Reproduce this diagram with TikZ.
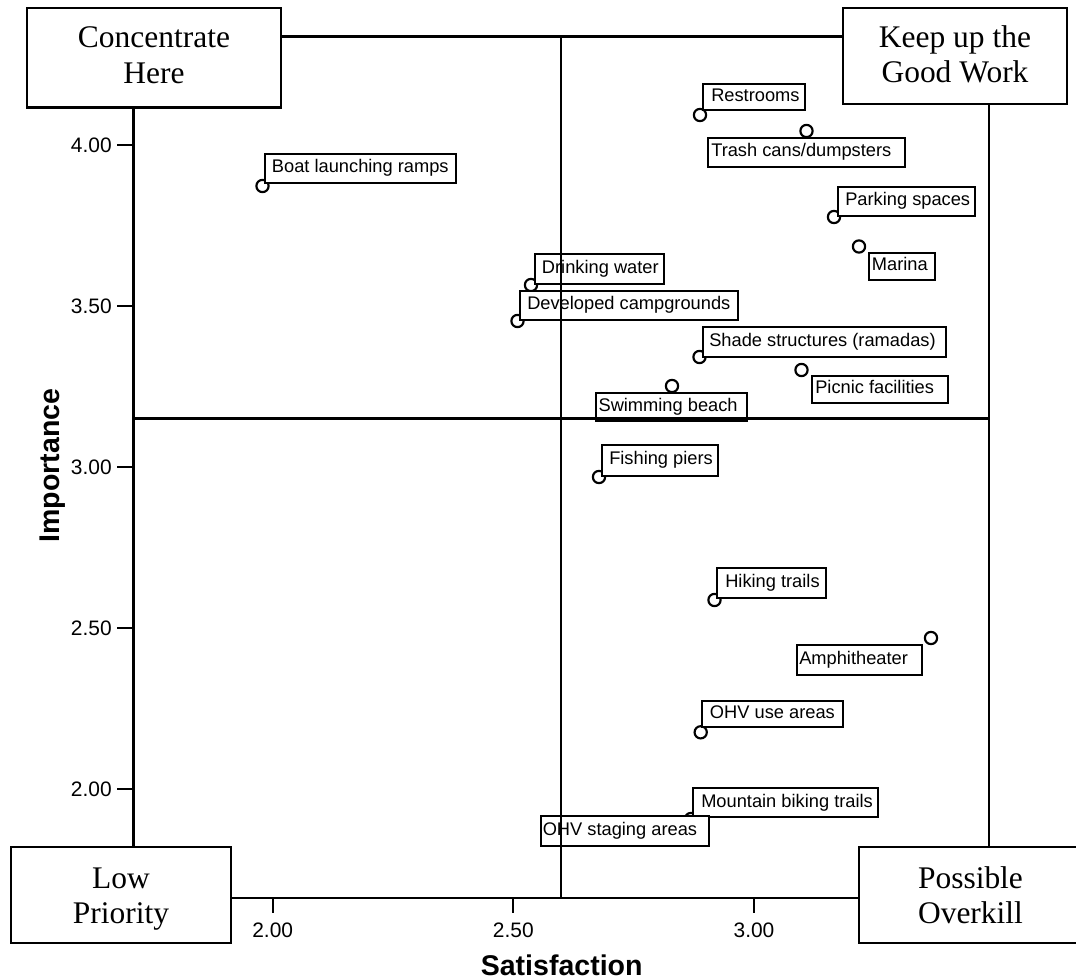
\documentclass[tikz,border=0pt]{standalone}
\usepackage{fontspec}
\setmainfont{Liberation Sans}
\newfontfamily\quadfont{Liberation Serif}
\newcommand\pxlab[7]{%
  \draw[lbbox] (#2,#3) rectangle (#4,#5);
  \node[lbtext] (#1) at ({#2+#6},{(#3+#5)/2+4.5}) {#7};}
\begin{document}
\begin{tikzpicture}[x=0.75pt,y=-0.75pt,
  frameline/.style={line width=2.2pt},
  tickline/.style={line width=1.6pt},
  qbox/.style={draw, line width=1.9pt, fill=white},
  qtext/.style={font=\quadfont\fontsize{23.6}{27}\selectfont, anchor=base, inner sep=0pt},
  lbbox/.style={draw, line width=1.6pt, fill=white},
  lbtext/.style={anchor=base west, inner sep=0pt, font=\fontsize{13.7}{15}\selectfont},
  ticklab/.style={inner sep=0pt, font=\fontsize{15.7}{18}\selectfont},
  axtitle/.style={inner sep=0pt, font=\bfseries\fontsize{21.4}{24}\selectfont},
  datapt/.style={draw, line width=1.6pt, circle, inner sep=0pt, minimum size=9.2pt}
]
\useasboundingbox (0,0) rectangle (1076,980);
\clip (0,0) rectangle (1076,980);

% data points
\node[datapt] (pboat) at (262.5,186) {};
\node[datapt] (prest) at (700,115) {};
\node[datapt] (ptrash) at (806.5,131) {};
\node[datapt] (ppark) at (834,217) {};
\node[datapt] (pmarina) at (859,246.5) {};
\node[datapt] (pdrink) at (531,285) {};
\node[datapt] (pdevel) at (517.5,321) {};
\node[datapt] (pshade) at (699.5,357) {};
\node[datapt] (ppicnic) at (801.5,370) {};
\node[datapt] (pswim) at (672,386) {};
\node[datapt] (pfish) at (599,477) {};
\node[datapt] (phike) at (714.5,600) {};
\node[datapt] (pamph) at (931,638) {};
\node[datapt] (pohvuse) at (700.7,732.3) {};
\node[datapt] (pmtb) at (691,819) {};

% labels
\pxlab{lboat}{265}{154}{456}{183}{6.7}{Boat launching ramps}
\pxlab{lrest}{703}{84}{805}{110}{8}{Restrooms}
\pxlab{ltrash}{708}{138}{905}{167}{3}{Trash cans/dumpsters}
\pxlab{lpark}{838}{187}{975}{216}{7}{Parking spaces}
\pxlab{lmarina}{869}{253}{935}{280}{2.7}{Marina}
\pxlab{ldrink}{535}{254}{664}{284}{6.7}{Drinking water}
\pxlab{ldevel}{520}{291}{738}{320}{7}{Developed campgrounds}
\pxlab{lshade}{703}{327}{946}{357}{6}{Shade structures (ramadas)}
\pxlab{lpicnic}{812}{376}{948}{403}{3}{Picnic facilities}
\pxlab{lswim}{596}{393}{747}{421}{2.3}{Swimming beach}
\pxlab{lfish}{602}{445}{718}{476}{7}{Fishing piers}
\pxlab{lhike}{717}{568}{826}{598}{8}{Hiking trails}
\pxlab{lamph}{797}{645}{922}{675}{2}{Amphitheater}
\pxlab{lohvuse}{702}{701}{843}{727}{7.7}{OHV use areas}
\pxlab{lmtb}{693}{788}{878}{817}{8}{Mountain biking trails}
\pxlab{lohvstage}{541}{816}{709}{846}{1.5}{OHV staging areas}

% frame and quadrant lines
\draw[frameline] (133.3,36.5) rectangle (989,898);
\draw[frameline] (561,36.5) -- (561,898);
\draw[frameline] (133.3,418.3) -- (989,418.3);

% y ticks
\foreach \yy/\tl in {145/4.00,305.6/3.50,466.7/3.00,627.8/2.50,789/2.00}{
  \draw[tickline] (117,\yy) -- (133.3,\yy);
  \node[ticklab, anchor=base east] at (112,\yy+7.5) {\tl};
}
% x ticks
\foreach \xx/\tl in {272.7/2.00,513.3/2.50,754/3.00}{
  \draw[tickline] (\xx,898) -- (\xx,913);
  \node[ticklab, anchor=base] at (\xx,937) {\tl};
}

% axis titles
\node[axtitle, anchor=base] (xtitle) at (561.7,975) {Satisfaction};
\node[axtitle, anchor=base, rotate=90] (ytitle) at (60,465.5) {Importance};

% quadrant boxes
\draw[qbox] (27,8) rectangle (281,107.3);
\node[qtext] (qconcA) at (154,47.7) {Concentrate};
\node[qtext] (qconcB) at (154,84) {Here};
\draw[qbox] (843,8) rectangle (1067,104);
\node[qtext] (qkeepA) at (955,48) {Keep up the};
\node[qtext] (qkeepB) at (955,83) {Good Work};
\draw[qbox] (11,847) rectangle (231,943);
\node[qtext] (qlowA) at (121,888.3) {Low};
\node[qtext] (qlowB) at (121,923.3) {Priority};
\draw[qbox] (859,847) rectangle (1082,943);
\node[qtext] (qoverA) at (970.5,888.3) {Possible};
\node[qtext] (qoverB) at (970.5,923.3) {Overkill};
\end{tikzpicture}
\end{document}
